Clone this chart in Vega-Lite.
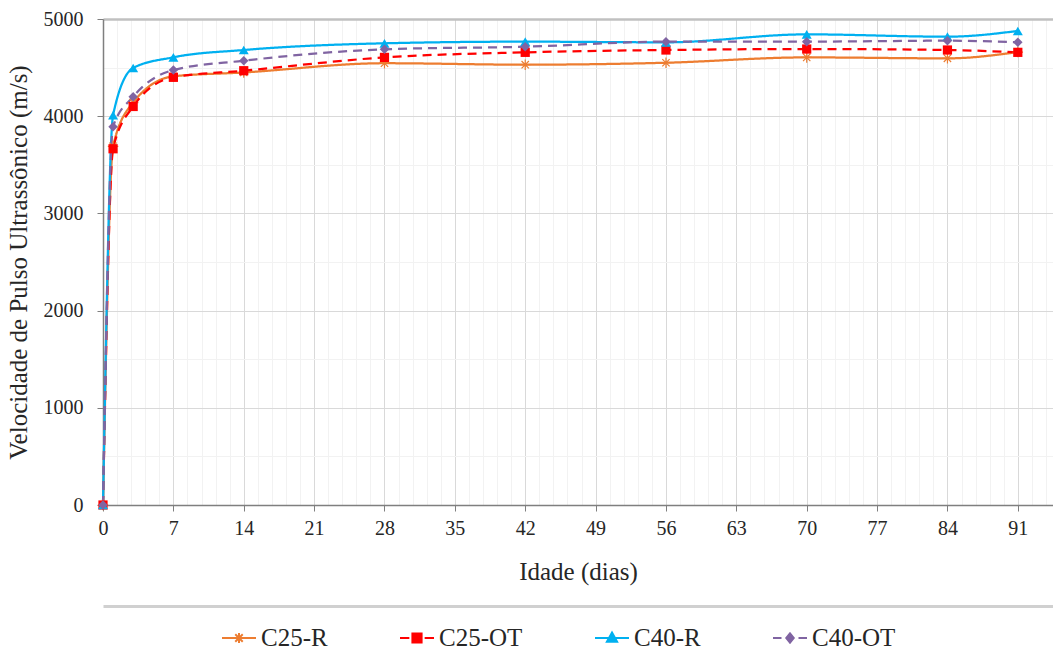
{
  "$schema": "https://vega.github.io/schema/vega-lite/v6.json",
  "width": 950,
  "height": 486,
  "autosize": {"type": "pad"},
  "padding": {"left": 6, "top": 9, "right": 0, "bottom": 0},
  "background": "white",
  "config": {
    "font": "Liberation Serif",
    "view": {"stroke": null}
  },
  "data": {
    "values": [
      {"dia": 0, "v": 0, "serie": "C25-R"},
      {"dia": 1, "v": 3690, "serie": "C25-R"},
      {"dia": 3, "v": 4140, "serie": "C25-R"},
      {"dia": 7, "v": 4410, "serie": "C25-R"},
      {"dia": 14, "v": 4450, "serie": "C25-R"},
      {"dia": 28, "v": 4545, "serie": "C25-R"},
      {"dia": 42, "v": 4530, "serie": "C25-R"},
      {"dia": 56, "v": 4550, "serie": "C25-R"},
      {"dia": 70, "v": 4605, "serie": "C25-R"},
      {"dia": 84, "v": 4595, "serie": "C25-R"},
      {"dia": 91, "v": 4660, "serie": "C25-R"},
      {"dia": 0, "v": 0, "serie": "C25-OT"},
      {"dia": 1, "v": 3665, "serie": "C25-OT"},
      {"dia": 3, "v": 4100, "serie": "C25-OT"},
      {"dia": 7, "v": 4400, "serie": "C25-OT"},
      {"dia": 14, "v": 4468, "serie": "C25-OT"},
      {"dia": 28, "v": 4605, "serie": "C25-OT"},
      {"dia": 42, "v": 4657, "serie": "C25-OT"},
      {"dia": 56, "v": 4681, "serie": "C25-OT"},
      {"dia": 70, "v": 4691, "serie": "C25-OT"},
      {"dia": 84, "v": 4681, "serie": "C25-OT"},
      {"dia": 91, "v": 4657, "serie": "C25-OT"},
      {"dia": 0, "v": 0, "serie": "C40-R"},
      {"dia": 1, "v": 4010, "serie": "C40-R"},
      {"dia": 3, "v": 4496, "serie": "C40-R"},
      {"dia": 7, "v": 4606, "serie": "C40-R"},
      {"dia": 14, "v": 4681, "serie": "C40-R"},
      {"dia": 28, "v": 4750, "serie": "C40-R"},
      {"dia": 42, "v": 4767, "serie": "C40-R"},
      {"dia": 56, "v": 4760, "serie": "C40-R"},
      {"dia": 70, "v": 4842, "serie": "C40-R"},
      {"dia": 84, "v": 4818, "serie": "C40-R"},
      {"dia": 91, "v": 4877, "serie": "C40-R"},
      {"dia": 0, "v": 0, "serie": "C40-OT"},
      {"dia": 1, "v": 3892, "serie": "C40-OT"},
      {"dia": 3, "v": 4200, "serie": "C40-OT"},
      {"dia": 7, "v": 4475, "serie": "C40-OT"},
      {"dia": 14, "v": 4571, "serie": "C40-OT"},
      {"dia": 28, "v": 4688, "serie": "C40-OT"},
      {"dia": 42, "v": 4715, "serie": "C40-OT"},
      {"dia": 56, "v": 4767, "serie": "C40-OT"},
      {"dia": 70, "v": 4767, "serie": "C40-OT"},
      {"dia": 84, "v": 4777, "serie": "C40-OT"},
      {"dia": 91, "v": 4760, "serie": "C40-OT"}
    ]
  },
  "resolve": {"axis": {"x": "independent", "y": "independent"}},
  "layer": [
    {
      "mark": {"type": "line", "interpolate": "monotone", "strokeWidth": 2.25},
      "encoding": {
        "x": {
          "field": "dia", "type": "quantitative",
          "scale": {"domain": [0, 94.5], "nice": false},
          "axis": {
            "orient": "bottom",
            "title": "Idade (dias)",
            "titleFontSize": 25, "titleFontWeight": "normal", "titleColor": "#262626", "titlePadding": 21,
            "values": [0,1.4,2.8,4.2,5.6,7,8.4,9.8,11.2,12.6,14,15.4,16.8,18.2,19.6,21,22.4,23.8,25.2,26.6,28,29.4,30.8,32.2,33.6,35,36.4,37.8,39.2,40.6,42,43.4,44.8,46.2,47.6,49,50.4,51.8,53.2,54.6,56,57.4,58.8,60.2,61.6,63,64.4,65.8,67.2,68.6,70,71.4,72.8,74.2,75.6,77,78.4,79.8,81.2,82.6,84,85.4,86.8,88.2,89.6,91,92.4,93.8],
            "labelExpr": "abs(datum.value/7 - round(datum.value/7)) < 0.001 ? format(datum.value, 'd') : ''",
            "labelOverlap": false, "labelFlush": false,
            "labelFontSize": 20, "labelColor": "#262626", "labelPadding": 7,
            "grid": true,
            "gridColor": {"condition": {"test": "abs(datum.value/7 - round(datum.value/7)) < 0.001", "value": "#d9d9d9"}, "value": "#f2f2f2"},
            "gridWidth": 1,
            "tickSize": 6, "tickColor": "#7f7f7f",
            "tickOpacity": {"condition": {"test": "abs(datum.value/7 - round(datum.value/7)) < 0.001", "value": 1}, "value": 0},
            "domainColor": "#7f7f7f", "domainWidth": 1.5
          }
        },
        "y": {
          "field": "v", "type": "quantitative",
          "scale": {"domain": [0, 5000], "nice": false},
          "axis": {
            "orient": "left",
            "title": "Velocidade de Pulso Ultrassônico (m/s)",
            "titleFontSize": 25, "titleFontWeight": "normal", "titleColor": "#262626", "titlePadding": 12,
            "values": [0,500,1000,1500,2000,2500,3000,3500,4000,4500,5000],
            "labelExpr": "datum.value % 1000 == 0 ? format(datum.value, 'd') : ''",
            "labelOverlap": false, "labelFlush": false,
            "labelFontSize": 20, "labelColor": "#262626", "labelPadding": 14,
            "grid": true,
            "gridColor": {"condition": [{"test": "datum.value == 5000", "value": "#c0c0c0"}, {"test": "datum.value % 1000 == 0", "value": "#d9d9d9"}], "value": "#f2f2f2"},
            "gridWidth": {"condition": {"test": "datum.value == 5000", "value": 2.5}, "value": 1},
            "tickSize": 6, "tickColor": "#7f7f7f",
            "tickOpacity": {"condition": {"test": "datum.value % 1000 == 0", "value": 1}, "value": 0},
            "domainColor": "#7f7f7f", "domainWidth": 1.5
          }
        },
        "color": {
          "field": "serie", "type": "nominal",
          "scale": {"domain": ["C25-R", "C25-OT", "C40-R", "C40-OT"], "range": ["#ED7D31", "#FF0000", "#00B0F0", "#8064A2"]},
          "legend": {"orient": "bottom", "title": null, "direction": "horizontal", "labelFontSize": 16, "labelExpr": "''", "symbolOpacity": 0, "symbolSize": 1, "labelOpacity": 0}
        },
        "strokeDash": {
          "field": "serie", "type": "nominal",
          "scale": {"domain": ["C25-R", "C25-OT", "C40-R", "C40-OT"], "range": [[1, 0], [9, 6], [1, 0], [9, 6]]},
          "legend": null
        }
      }
    },
    {
      "transform": [{"filter": "datum.serie == 'C25-R'"}],
      "mark": {"type": "point", "filled": false, "stroke": "#ED7D31", "strokeWidth": 1.2, "size": 110, "opacity": 1,
               "shape": "M-1,0L1,0M0,-1L0,1M-0.7,-0.7L0.7,0.7M-0.7,0.7L0.7,-0.7"},
      "encoding": {
        "x": {"field": "dia", "type": "quantitative",
              "axis": {"orient": "bottom", "offset": 101, "title": null, "labels": false, "ticks": false, "grid": false, "domainColor": "#d0d0d0", "domainWidth": 3}},
        "y": {"field": "v", "type": "quantitative", "axis": null}
      }
    },
    {
      "transform": [{"filter": "datum.serie == 'C25-OT'"}],
      "mark": {"type": "point", "filled": true, "color": "#FF0000", "shape": "square", "size": 85, "opacity": 1},
      "encoding": {
        "x": {"field": "dia", "type": "quantitative", "axis": null},
        "y": {"field": "v", "type": "quantitative", "axis": null}
      }
    },
    {
      "transform": [{"filter": "datum.serie == 'C40-R'"}],
      "mark": {"type": "point", "filled": true, "color": "#00B0F0", "shape": "triangle-up", "size": 100, "opacity": 1},
      "encoding": {
        "x": {"field": "dia", "type": "quantitative", "axis": null},
        "y": {"field": "v", "type": "quantitative", "axis": null}
      }
    },
    {
      "transform": [{"filter": "datum.serie == 'C40-OT'"}],
      "mark": {"type": "point", "filled": true, "color": "#8064A2", "shape": "diamond", "size": 90, "opacity": 1},
      "encoding": {
        "x": {"field": "dia", "type": "quantitative", "axis": null},
        "y": {"field": "v", "type": "quantitative", "axis": null}
      }
    },
    {
      "mark": {"type": "point", "filled": true, "size": 1156, "strokeWidth": 2, "opacity": 0},
      "encoding": {
        "x": {"field": "dia", "type": "quantitative", "axis": null},
        "y": {"field": "v", "type": "quantitative", "axis": null},
        "shape": {
          "field": "serie", "type": "nominal",
          "scale": {"domain": ["C25-R", "C25-OT", "C40-R", "C40-OT"],
                    "range": [
                      "M-1,0L1,0M0,-0.3L0,0.3M-0.22,-0.22L0.22,0.22M-0.22,0.22L0.22,-0.22",
                      "M-1,0L-0.45,0M0.45,0L1,0M-0.27,-0.27L0.27,-0.27L0.27,0.27L-0.27,0.27Z",
                      "M-1,0L1,0M0,-0.32L0.3,0.22L-0.3,0.22Z",
                      "M-1,0L-0.5,0M0.5,0L1,0M0,-0.27L0.22,0L0,0.27L-0.22,0Z"
                    ]},
          "legend": {
            "orient": "none", "legendX": 118, "legendY": 601,
            "direction": "horizontal", "columns": 4, "columnPadding": 68,
            "title": null,
            "labelFontSize": 25, "labelColor": "#262626", "labelOffset": 4,
            "symbolSize": 1156, "symbolStrokeWidth": 2, "symbolOpacity": 1
          }
        },
        "fill": {
          "field": "serie", "type": "nominal",
          "scale": {"domain": ["C25-R", "C25-OT", "C40-R", "C40-OT"], "range": ["#ED7D31", "#FF0000", "#00B0F0", "#8064A2"]}
        },
        "stroke": {
          "field": "serie", "type": "nominal",
          "scale": {"domain": ["C25-R", "C25-OT", "C40-R", "C40-OT"], "range": ["#ED7D31", "#FF0000", "#00B0F0", "#8064A2"]}
        }
      }
    }
  ]
}
